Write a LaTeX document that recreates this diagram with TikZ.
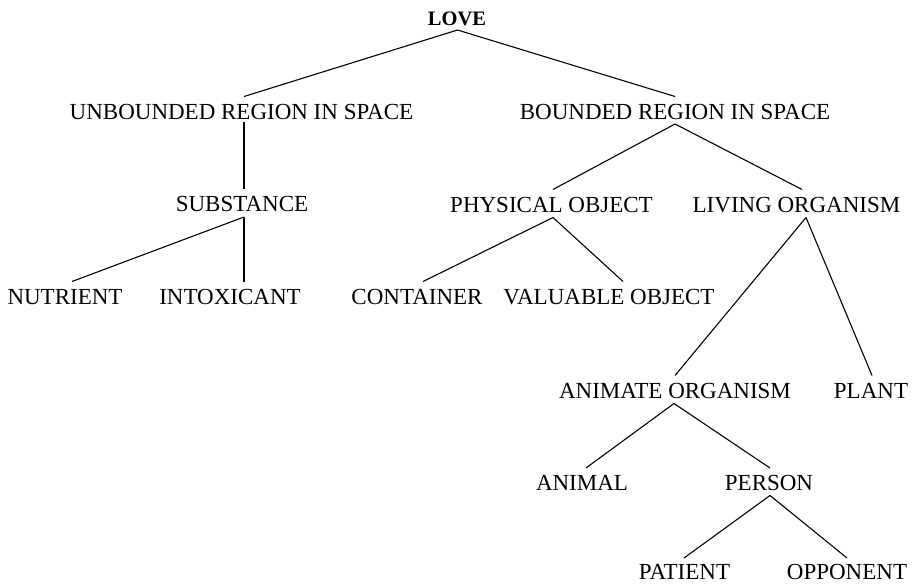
\documentclass[tikz,border=0pt]{standalone}
\usepackage{fontspec}
\setmainfont{Liberation Serif}
\usetikzlibrary{calc}
\begin{document}
\begin{tikzpicture}[x=1pt,y=-1pt,
  lbl/.style={anchor=base,inner sep=0pt,font=\fontsize{23}{27}\selectfont},
  rootlbl/.style={anchor=base,inner sep=0pt,font=\fontsize{20.5}{24}\selectfont\bfseries},
  edge/.style={line width=1.1pt,black}]
\useasboundingbox (0,0) rectangle (915,585);
% nodes
\node[rootlbl] (love) at (457,26) {LOVE};
\node[lbl] (unb) at (241.5,119.5) {UNBOUNDED REGION IN SPACE};
\node[lbl] (bnd) at (675,119.5) {BOUNDED REGION IN SPACE};
\node[lbl] (sub) at (242,212) {SUBSTANCE};
\node[lbl] (phy) at (551.5,212.5) {PHYSICAL OBJECT};
\node[lbl] (liv) at (796.5,212.5) {LIVING ORGANISM};
\node[lbl] (nut) at (65,304.5) {NUTRIENT};
\node[lbl] (itx) at (230,304.5) {INTOXICANT};
\node[lbl] (con) at (417,304.5) {CONTAINER};
\node[lbl] (val) at (609,304.5) {VALUABLE OBJECT};
\node[lbl] (ani) at (675,398.5) {ANIMATE ORGANISM};
\node[lbl] (pla) at (871,398.5) {PLANT};
\node[lbl] (aml) at (582,490) {ANIMAL};
\node[lbl] (per) at (769,490) {PERSON};
\node[lbl] (pat) at (684.5,579) {PATIENT};
\node[lbl] (opp) at (847,579) {OPPONENT};
% connectors
\draw[edge] ($(love.base)+(0.5,4)$) -- ($(unb.base)+(2.5,-23)$);
\draw[edge] ($(love.base)+(0.5,4)$) -- ($(bnd.base)+(0,-23)$);
\draw[edge] ($(unb.base)+(2.5,2.5)$) -- ($(sub.base)+(2,-23)$);
\draw[edge] ($(sub.base)+(2,5)$) -- ($(nut.base)+(7,-23)$);
\draw[edge] ($(sub.base)+(2,5)$) -- ($(itx.base)+(14,-23)$);
\draw[edge] ($(bnd.base)+(0,4.5)$) -- ($(phy.base)+(1.5,-23)$);
\draw[edge] ($(bnd.base)+(0,4.5)$) -- ($(liv.base)+(5.5,-23)$);
\draw[edge] ($(phy.base)+(1.5,5)$) -- ($(con.base)+(6,-23)$);
\draw[edge] ($(phy.base)+(1.5,5)$) -- ($(val.base)+(14,-23)$);
\draw[edge] ($(liv.base)+(9.5,5)$) -- ($(ani.base)+(0,-23)$);
\draw[edge] ($(liv.base)+(9.5,5)$) -- ($(pla.base)+(1,-23)$);
\draw[edge] ($(ani.base)+(-1,5)$) -- ($(aml.base)+(4,-22)$);
\draw[edge] ($(ani.base)+(-1,5)$) -- ($(per.base)+(1,-22)$);
\draw[edge] ($(per.base)+(1,5.5)$) -- ($(pat.base)+(-0.5,-21)$);
\draw[edge] ($(per.base)+(1,5.5)$) -- ($(opp.base)+(0,-21)$);
\end{tikzpicture}
\end{document}
